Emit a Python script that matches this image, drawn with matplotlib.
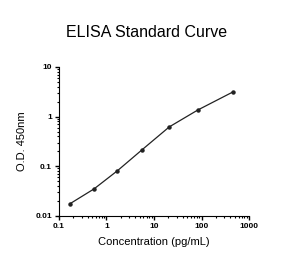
import matplotlib.pyplot as plt
from matplotlib.ticker import FixedLocator, FixedFormatter, LogLocator, NullFormatter

conc = [0.17, 0.55, 1.7, 5.6, 21, 84, 460]
od = [0.0175, 0.035, 0.081, 0.214, 0.62, 1.36, 3.14]

xticks = [0.1, 1, 10, 100, 1000]
xlabels = ['0.1', '1', '10', '100', '1000']
yticks = [0.01, 0.1, 1, 10]
ylabels = ['0.01', '0.1', '1', '10']

plt.rcParams['font.family'] = ['Liberation Sans', 'DejaVu Sans']

fig = plt.figure(figsize=(2.93, 2.8), dpi=100)
ax = fig.add_axes([0.201, 0.229, 0.649, 0.532])

ax.plot(conc, od, color='#222222', lw=0.9, marker='o', ms=2.2)
ax.set_xscale('log')
ax.set_yscale('log')
ax.set_xlim(0.1, 1000)
ax.set_ylim(0.01, 10)

ax.xaxis.set_major_locator(FixedLocator(xticks))
ax.xaxis.set_major_formatter(FixedFormatter(xlabels))
ax.yaxis.set_major_locator(FixedLocator(yticks))
ax.yaxis.set_major_formatter(FixedFormatter(ylabels))
for a in (ax.xaxis, ax.yaxis):
    a.set_minor_locator(LogLocator(base=10, subs=range(2, 10)))
    a.set_minor_formatter(NullFormatter())

ax.spines['top'].set_visible(False)
ax.spines['right'].set_visible(False)
ax.tick_params(which='major', direction='out', length=3, width=1, labelsize=6, pad=2)
ax.tick_params(which='minor', direction='out', length=1.5, width=0.8)
for lab in ax.get_xticklabels() + ax.get_yticklabels():
    lab.set_fontweight('bold')

ax.set_xlabel('Concentration (pg/mL)', fontsize=8, labelpad=5)
ax.set_ylabel('O.D. 450nm', fontsize=8, labelpad=6)
fig.text(0.5, 0.885, 'ELISA Standard Curve', ha='center', va='center', fontsize=11.5)

fig.savefig('out.png', dpi=100)
